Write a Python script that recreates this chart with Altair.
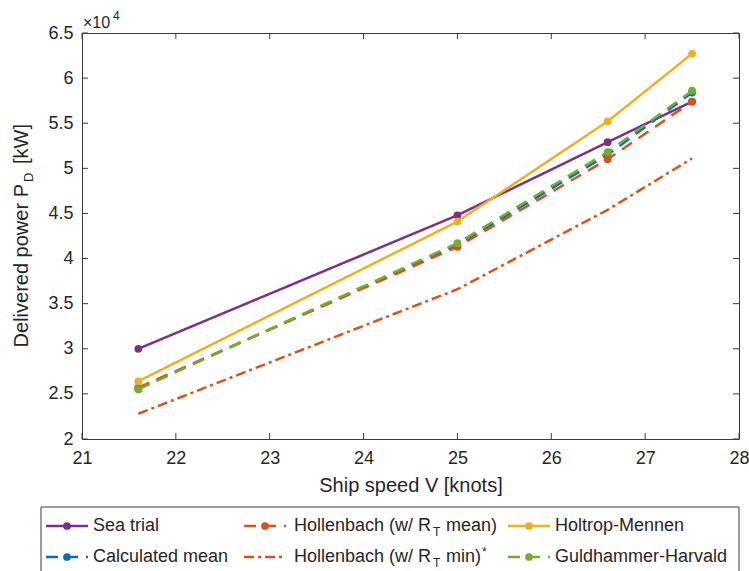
import altair as alt
import pandas as pd

# Ship speeds at which the delivered power was evaluated [knots]
speed = [21.6, 25.0, 26.6, 27.5]

# Delivered power P_D [kW] per prediction method
sea_trial = [30000, 44800, 52900, 57400]
calculated_mean = [25600, 41500, 51500, 58400]
hollenbach_mean = [25700, 41300, 51000, 57400]
hollenbach_min = [22800, 36600, 45400, 51100]
holtrop_mennen = [26400, 44100, 55200, 62700]
guldhammer_harvald = [25500, 41700, 51800, 58600]

x_ticks = [21, 22, 23, 24, 25, 26, 27, 28]
y_ticks = [20000, 25000, 30000, 35000, 40000, 45000, 50000, 55000, 60000, 65000]

FONT = "Liberation Sans"
TXT = "#262626"
AX = "#3a3a3a"
W, H = 657, 406

SOLID = [1, 0]
DASH = [12, 8]
DASHDOT = [10, 4, 3, 4]

series = [
    dict(values=sea_trial, color="#7E2F8E", dash=SOLID, marker=True),
    dict(values=calculated_mean, color="#0072BD", dash=DASH, marker=True),
    dict(values=hollenbach_mean, color="#D95319", dash=DASH, marker=True),
    dict(values=hollenbach_min, color="#D95319", dash=DASHDOT, marker=False),
    dict(values=holtrop_mennen, color="#EDB120", dash=SOLID, marker=True),
    dict(values=guldhammer_harvald, color="#77AC30", dash=DASH, marker=True),
]

x_enc = alt.X(
    "v:Q",
    scale=alt.Scale(domain=[21, 28], nice=False, zero=False),
    axis=alt.Axis(
        values=x_ticks, title="Ship speed V [knots]", labelFlush=False,
        labelPadding=10, titlePadding=8,
    ),
)
y_enc = alt.Y(
    "p:Q",
    scale=alt.Scale(domain=[20000, 65000], nice=False, zero=False),
    axis=alt.Axis(values=y_ticks, labelExpr="datum.value / 10000", title="", labelPadding=9),
)

one = pd.DataFrame({"k": [0]})


def text(s, x, y, size=18, align="left", angle=0, baseline="middle"):
    return alt.Chart(one).mark_text(
        text=s, font=FONT, fontSize=size, color=TXT, align=align,
        baseline=baseline, angle=angle,
    ).encode(x=alt.value(x), y=alt.value(y))


layers = []

# inward ticks on all four sides of the box
xt = pd.DataFrame({"v": x_ticks})
yt = pd.DataFrame({"p": y_ticks})
tick_style = dict(color=AX, strokeWidth=1)
layers.append(alt.Chart(xt).mark_rule(**tick_style).encode(x=x_enc, y=alt.value(H), y2=alt.value(H - 6)))
layers.append(alt.Chart(xt).mark_rule(**tick_style).encode(x=x_enc, y=alt.value(0), y2=alt.value(6)))
layers.append(alt.Chart(yt).mark_rule(**tick_style).encode(y=y_enc, x=alt.value(0), x2=alt.value(6)))
layers.append(alt.Chart(yt).mark_rule(**tick_style).encode(y=y_enc, x=alt.value(W), x2=alt.value(W - 6)))

# data series
for s in series:
    df = pd.DataFrame({"v": speed, "p": s["values"]})
    layers.append(
        alt.Chart(df).mark_line(color=s["color"], strokeWidth=2.5, strokeDash=s["dash"])
        .encode(x=x_enc, y=y_enc)
    )
    if s["marker"]:
        layers.append(
            alt.Chart(df).mark_circle(color=s["color"], size=60, opacity=1)
            .encode(x=x_enc, y=y_enc)
        )

# exponent label
layers.append(text("×10", 1, -10, size=16))
layers.append(text("4", 31, -17, size=12))

# y-axis title with subscript
layers.append(text("Delivered power P", -60, 151, size=20, align="right", angle=270))
layers.append(text("D", -53, 149, size=13, align="left", angle=270))
layers.append(text("[kW]", -60, 131, size=20, align="left", angle=270))

# legend box
layers.append(
    alt.Chart(one).mark_rect(fill="white", stroke=AX, strokeWidth=1)
    .encode(x=alt.value(-41), x2=alt.value(W), y=alt.value(474), y2=alt.value(560))
)

# legend entries: (series index, sample start x, row y)
OX, OY = 82, 33
legend_rows = [526 - OY, 557 - OY]
legend_cols = [46 - OX, 244 - OX, 508 - OX]
sample_len = 42
legend_pos = [(0, 0), (0, 1), (1, 0), (1, 1), (2, 0), (2, 1)]

for s, (c, r) in zip(series, legend_pos):
    x0 = legend_cols[c]
    y0 = legend_rows[r]
    layers.append(
        alt.Chart(one).mark_rule(color=s["color"], strokeWidth=2.5, strokeDash=s["dash"])
        .encode(x=alt.value(x0), x2=alt.value(x0 + sample_len), y=alt.value(y0))
    )
    if s["marker"]:
        layers.append(
            alt.Chart(one).mark_circle(color=s["color"], size=60, opacity=1)
            .encode(x=alt.value(x0 + 21), y=alt.value(y0))
        )

r0, r1 = legend_rows
layers.append(text("Sea trial", 93 - OX, r0))
layers.append(text("Calculated mean", 93 - OX, r1))
layers.append(text("Hollenbach (w/ R", 431 - OX, r0, align="right"))
layers.append(text("T", 433 - OX, r0 + 6, size=12))
layers.append(text("mean)", 446 - OX, r0))
layers.append(text("Hollenbach (w/ R", 431 - OX, r1, align="right"))
layers.append(text("T", 433 - OX, r1 + 6, size=12))
layers.append(text("min)", 446 - OX, r1))
layers.append(text("*", 482 - OX, r1 - 5, size=12))
layers.append(text("Holtrop-Mennen", 555 - OX, r0))
layers.append(text("Guldhammer-Harvald", 555 - OX, r1))

chart = (
    alt.layer(*layers)
    .properties(
        width=W, height=H,
        autosize=alt.AutoSizeParams(type="none"),
        padding={"left": OX, "top": OY, "right": 10, "bottom": 132},
        background="white",
    )
    .configure_view(stroke=AX, strokeWidth=1)
    .configure_axis(
        domain=False, ticks=False, grid=False,
        labelFont=FONT, labelFontSize=18, labelColor=TXT,
        titleFont=FONT, titleFontSize=20, titleFontWeight="normal", titleColor=TXT,
    )
)

chart.save("out.html", embed_options={"renderer": "svg", "actions": False})
